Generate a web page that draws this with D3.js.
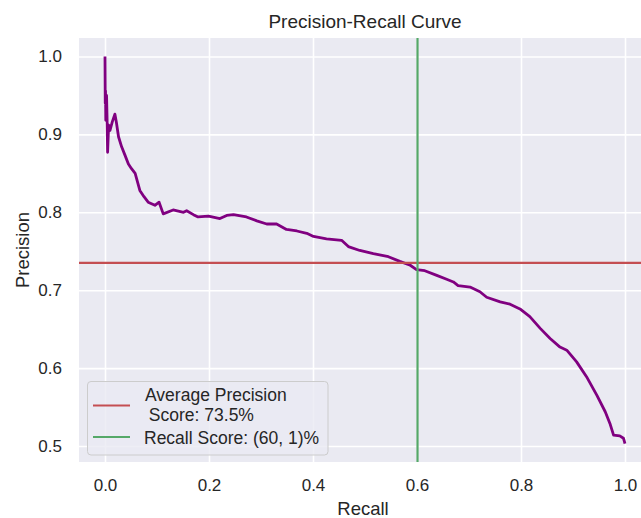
<!DOCTYPE html>
<html>
<head>
<meta charset="utf-8">
<script src="https://cdn.jsdelivr.net/npm/d3@7"></script>
<style>
  html, body { margin: 0; padding: 0; background: #ffffff; }
  svg { display: block; font-family: "Liberation Sans", Arial, sans-serif; }
</style>
</head>
<body>
<svg id="chart" width="641" height="518"></svg>
<script>
// Precision-recall curve points
const recallValues = [
  0, 0.0005, 0.001, 0.0015, 0.003, 0.004, 0.005, 0.007, 0.0096, 0.014,
  0.019, 0.022, 0.026, 0.032, 0.038, 0.045, 0.051, 0.058, 0.067, 0.075,
  0.083, 0.096, 0.104, 0.112, 0.131, 0.151, 0.157, 0.170, 0.179, 0.199,
  0.221, 0.234, 0.247, 0.272, 0.292, 0.311, 0.330, 0.349, 0.369, 0.388,
  0.401, 0.426, 0.455, 0.468, 0.490, 0.516, 0.545, 0.567, 0.587, 0.599,
  0.615, 0.638, 0.657, 0.670, 0.679, 0.702, 0.721, 0.734, 0.760, 0.779,
  0.798, 0.817, 0.837, 0.856, 0.875, 0.888, 0.907, 0.926, 0.946, 0.962,
  0.971, 0.978, 0.990, 0.997, 1.0
];
const precisionValues = [
  1.0, 0.94, 0.956, 0.918, 0.95, 0.92, 0.877, 0.912, 0.905, 0.916,
  0.926, 0.915, 0.897, 0.884, 0.874, 0.862, 0.856, 0.850, 0.828, 0.820,
  0.813, 0.809, 0.813, 0.798, 0.803, 0.800, 0.802, 0.797, 0.794, 0.795,
  0.792, 0.796, 0.797, 0.794, 0.789, 0.785, 0.785, 0.778, 0.776, 0.773,
  0.769, 0.766, 0.764, 0.756, 0.751, 0.747, 0.743, 0.737, 0.732, 0.7265,
  0.725, 0.719, 0.714, 0.7106, 0.706, 0.704, 0.698, 0.691, 0.685, 0.682,
  0.676, 0.666, 0.651, 0.638, 0.627, 0.623, 0.608, 0.589, 0.565, 0.544,
  0.529, 0.514, 0.513, 0.510, 0.503
];
const averagePrecision = 0.735;
const recallScore = 0.601;

const xTicks = [0.0, 0.2, 0.4, 0.6, 0.8, 1.0];
const yTicks = [0.5, 0.6, 0.7, 0.8, 0.9, 1.0];
const legendLabels = ["Average Precision", " Score: 73.5%", "Recall Score: (60, 1)%"];

const svg = d3.select("#chart");
const plot = { left: 79, right: 651, top: 38, bottom: 462 };

const x = d3.scaleLinear().domain([-0.05, 1.05]).range([plot.left, plot.right]);
const y = d3.scaleLinear().domain([0.4795, 1.0237]).range([plot.bottom, plot.top]);

// Axes background
svg.append("rect")
  .attr("x", plot.left).attr("y", plot.top)
  .attr("width", plot.right - plot.left).attr("height", plot.bottom - plot.top)
  .attr("fill", "#EAEAF2");

svg.append("defs").append("clipPath").attr("id", "plotClip")
  .append("rect")
  .attr("x", plot.left).attr("y", plot.top)
  .attr("width", plot.right - plot.left).attr("height", plot.bottom - plot.top);

// Grid lines via axes with full-length ticks
const xGrid = svg.append("g")
  .attr("transform", `translate(0,${plot.bottom})`)
  .call(d3.axisBottom(x).tickValues(xTicks).tickSize(-(plot.bottom - plot.top)).tickFormat(""));
const yGrid = svg.append("g")
  .attr("transform", `translate(${plot.left},0)`)
  .call(d3.axisLeft(y).tickValues(yTicks).tickSize(-(plot.right - plot.left)).tickFormat(""));
[xGrid, yGrid].forEach(g => {
  g.select(".domain").remove();
  g.selectAll(".tick line").attr("stroke", "#ffffff").attr("stroke-width", 1.6);
});

// Tick labels
const xAxis = svg.append("g")
  .attr("transform", `translate(0,${plot.bottom})`)
  .call(d3.axisBottom(x).tickValues(xTicks).tickSize(0).tickPadding(17).tickFormat(d3.format(".1f")));
const yAxis = svg.append("g")
  .attr("transform", `translate(${plot.left},0)`)
  .call(d3.axisLeft(y).tickValues(yTicks).tickSize(0).tickPadding(17).tickFormat(d3.format(".1f")));
[xAxis, yAxis].forEach(g => {
  g.select(".domain").remove();
  g.selectAll(".tick text")
    .attr("fill", "#262626")
    .style("font-size", "17px")
    .style("font-family", "'Liberation Sans', Arial, sans-serif");
});

const content = svg.append("g").attr("clip-path", "url(#plotClip)");

// PR curve
const points = recallValues.map((r, i) => [r, precisionValues[i]]);
content.append("path")
  .datum(points)
  .attr("fill", "none")
  .attr("stroke", "#800080")
  .attr("stroke-width", 2.8)
  .attr("stroke-linejoin", "round")
  .attr("d", d3.line().x(d => x(d[0])).y(d => y(d[1])));

// Average precision (horizontal) and recall score (vertical) reference lines
content.append("line")
  .attr("x1", plot.left).attr("x2", plot.right)
  .attr("y1", y(averagePrecision)).attr("y2", y(averagePrecision))
  .attr("stroke", "#C44E52").attr("stroke-width", 2.2);
content.append("line")
  .attr("x1", x(recallScore)).attr("x2", x(recallScore))
  .attr("y1", plot.top).attr("y2", plot.bottom)
  .attr("stroke", "#55A868").attr("stroke-width", 2.2);

// Titles
svg.append("text")
  .attr("x", (plot.left + plot.right) / 2).attr("y", 28)
  .attr("text-anchor", "middle")
  .attr("fill", "#262626")
  .style("font-size", "19px")
  .text("Precision-Recall Curve");
svg.append("text")
  .attr("x", 363).attr("y", 515)
  .attr("text-anchor", "middle")
  .attr("fill", "#262626")
  .style("font-size", "18.5px")
  .text("Recall");
svg.append("text")
  .attr("transform", `translate(29,${(plot.top + plot.bottom) / 2}) rotate(-90)`)
  .attr("text-anchor", "middle")
  .attr("fill", "#262626")
  .style("font-size", "18.5px")
  .text("Precision");

// Legend
const legend = svg.append("g");
legend.append("rect")
  .attr("x", 87.5).attr("y", 381.5)
  .attr("width", 240.5).attr("height", 73.5)
  .attr("rx", 3.5)
  .attr("fill", "#EAEAF2").attr("fill-opacity", 0.8)
  .attr("stroke", "#CCCCCC").attr("stroke-width", 1);
legend.append("line")
  .attr("x1", 93).attr("x2", 130).attr("y1", 405.5).attr("y2", 405.5)
  .attr("stroke", "#C44E52").attr("stroke-width", 2.2);
legend.append("line")
  .attr("x1", 93).attr("x2", 130).attr("y1", 437).attr("y2", 437)
  .attr("stroke", "#55A868").attr("stroke-width", 2.2);
const legendText = legend.append("text")
  .attr("fill", "#262626")
  .style("font-size", "17.5px")
  .style("white-space", "pre")
  .attr("xml:space", "preserve");
legendText.append("tspan").attr("x", 145).attr("y", 401).text(legendLabels[0]);
legendText.append("tspan").attr("x", 144).attr("y", 420.5).text(legendLabels[1]);
legend.append("text")
  .attr("x", 144).attr("y", 444)
  .attr("fill", "#262626")
  .style("font-size", "17.5px")
  .text(legendLabels[2]);
</script>
</body>
</html>
